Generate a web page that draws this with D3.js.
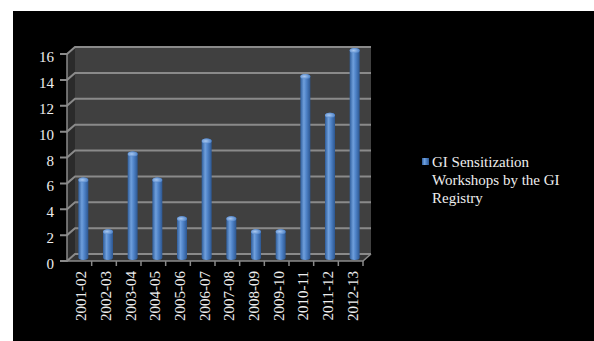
<!DOCTYPE html>
<html>
<head>
<meta charset="utf-8">
<script src="https://cdn.jsdelivr.net/npm/d3@7"></script>
<style>
  html, body { margin: 0; padding: 0; background: #fff; }
  svg { display: block; }
  text { font-family: "Liberation Serif", "DejaVu Serif", "Times New Roman", serif; }
</style>
</head>
<body>
<div id="chart"></div>
<script>
const categories = ["2001-02", "2002-03", "2003-04", "2004-05", "2005-06", "2006-07",
  "2007-08", "2008-09", "2009-10", "2010-11", "2011-12", "2012-13"];
const workshops = [6, 2, 8, 6, 3, 9, 3, 2, 2, 14, 11, 16];
const yTicks = [0, 2, 4, 6, 8, 10, 12, 14, 16];
const seriesName = ["GI Sensitization", "Workshops by the GI", "Registry"];

const width = 594;
const height = 341;
const depth = { dx: 8, dy: -7 };

const svg = d3.select("#chart")
  .append("svg")
  .attr("width", width)
  .attr("height", height);

// black chart area (white strip top and left)
svg.append("rect")
  .attr("x", 13).attr("y", 11)
  .attr("width", width - 13).attr("height", height - 11)
  .attr("fill", "#000");

const x = d3.scaleBand()
  .domain(categories)
  .range([67, 363]);

const y = d3.scaleLinear()
  .domain([0, 16])
  .range([261, 54]);

const x0 = x.range()[0], x1 = x.range()[1];
const yb = y(0), yt = y(16);

const defs = svg.append("defs");
const grad = defs.append("linearGradient")
  .attr("id", "barGrad")
  .attr("x1", "0%").attr("x2", "100%").attr("y1", "0%").attr("y2", "0%");
grad.append("stop").attr("offset", "0%").attr("stop-color", "#2f5d9a");
grad.append("stop").attr("offset", "35%").attr("stop-color", "#6f9fdc");
grad.append("stop").attr("offset", "60%").attr("stop-color", "#4f83c8");
grad.append("stop").attr("offset", "100%").attr("stop-color", "#2c5690");

const capGrad = defs.append("radialGradient")
  .attr("id", "capGrad")
  .attr("cx", "40%").attr("cy", "50%").attr("r", "60%");
capGrad.append("stop").attr("offset", "0%").attr("stop-color", "#a9c8f0");
capGrad.append("stop").attr("offset", "100%").attr("stop-color", "#4f83c8");

// back wall
svg.append("rect")
  .attr("x", x0 + depth.dx)
  .attr("y", yt + depth.dy)
  .attr("width", x1 - x0)
  .attr("height", yb - yt)
  .attr("fill", "#404040");

// left wall
svg.append("path")
  .attr("d", `M${x0},${yt} L${x0 + depth.dx},${yt + depth.dy} L${x0 + depth.dx},${yb + depth.dy} L${x0},${yb} Z`)
  .attr("fill", "#2b2b2b");

// floor
svg.append("path")
  .attr("d", `M${x0},${yb} L${x1},${yb} L${x1 + depth.dx},${yb + depth.dy} L${x0 + depth.dx},${yb + depth.dy} Z`)
  .attr("fill", "#353535");

// gridlines: diagonal on left wall + horizontal on back wall
const grid = svg.append("g");
yTicks.forEach(t => {
  grid.append("path")
    .attr("d", `M${x0 - 7},${y(t)} L${x0},${y(t)} L${x0 + depth.dx},${y(t) + depth.dy} L${x1 + depth.dx},${y(t) + depth.dy}`)
    .attr("fill", "none")
    .attr("stroke", "#8a8a8a")
    .attr("stroke-width", 2);
});

// front axis line and floor edges
svg.append("path")
  .attr("d", `M${x0},${yt} L${x0},${yb} L${x1},${yb} L${x1 + depth.dx},${yb + depth.dy}`)
  .attr("fill", "none")
  .attr("stroke", "#8a8a8a")
  .attr("stroke-width", 1.5);

// x ticks at band boundaries
svg.append("g")
  .selectAll("line")
  .data(categories)
  .enter()
  .append("line")
  .attr("x1", d => x(d) + x.bandwidth())
  .attr("x2", d => x(d) + x.bandwidth())
  .attr("y1", yb)
  .attr("y2", yb + 5)
  .attr("stroke", "#8a8a8a")
  .attr("stroke-width", 1.5);

// y labels
svg.append("g")
  .selectAll("text")
  .data(yTicks)
  .enter()
  .append("text")
  .attr("x", 54)
  .attr("y", d => y(d) + 8)
  .attr("text-anchor", "end")
  .style("font-size", "15px")
  .style("fill", "#eeeeee")
  .text(d => d);

// x labels
svg.append("g")
  .selectAll("text")
  .data(categories)
  .enter()
  .append("text")
  .attr("transform", d => `translate(${x(d) + x.bandwidth() / 2 + 7}, 271) rotate(-90)`)
  .attr("text-anchor", "end")
  .style("font-size", "15px")
  .style("fill", "#eeeeee")
  .text(d => d);

// cylinder bars at mid depth
const data = categories.map((c, i) => ({ cat: c, value: workshops[i] }));
const barW = 10;
const capR = 2.5;
const bars = svg.append("g")
  .attr("transform", `translate(${depth.dx / 2}, ${depth.dy / 2})`);

const barG = bars.selectAll("g.bar")
  .data(data)
  .enter()
  .append("g")
  .attr("class", "bar");

barG.append("path")
  .attr("d", d => {
    const cx = x(d.cat) + x.bandwidth() / 2;
    const l = cx - barW / 2, r = cx + barW / 2;
    const top = y(d.value), bot = y(0);
    return `M${l},${top} L${l},${bot} A${barW / 2},${capR} 0 0 0 ${r},${bot} L${r},${top} A${barW / 2},${capR} 0 0 0 ${l},${top} Z`;
  })
  .attr("fill", "url(#barGrad)");

barG.append("ellipse")
  .attr("cx", d => x(d.cat) + x.bandwidth() / 2)
  .attr("cy", d => y(d.value))
  .attr("rx", barW / 2)
  .attr("ry", capR)
  .attr("fill", "url(#capGrad)");

// legend
const legend = svg.append("g")
  .attr("transform", "translate(422, 158)");

legend.append("rect")
  .attr("width", 7)
  .attr("height", 7)
  .attr("fill", "url(#barGrad)");

legend.selectAll("text")
  .data(seriesName)
  .enter()
  .append("text")
  .attr("x", 10)
  .attr("y", (d, i) => 9 + i * 18)
  .style("font-size", "15px")
  .style("fill", "#eeeeee")
  .text(d => d);
</script>
</body>
</html>
